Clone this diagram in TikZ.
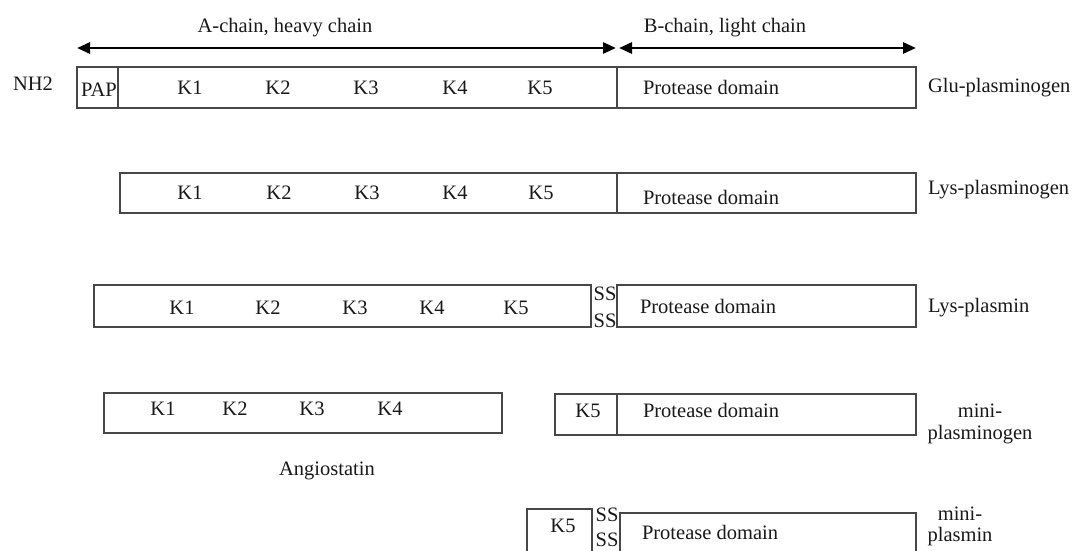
\documentclass[tikz,border=0pt]{standalone}
\usepackage{fontspec}
\setmainfont{Liberation Serif}
\usetikzlibrary{arrows.meta}
\begin{document}
\begin{tikzpicture}[x=1pt,y=-1pt,
  every node/.style={font=\fontsize{20.5}{22}\selectfont, text=black!90, inner sep=0pt, outer sep=0pt},
  dombox/.style={draw=black!72, line width=1.7pt},
  lbl/.style={anchor=base},
  lbw/.style={anchor=base west},
  chainarrow/.style={line width=2.8pt, {Triangle[length=13pt,width=11pt]}-{Triangle[length=13pt,width=11pt]}}]
\clip (0,0) rectangle (1073,550);
\fill[white] (0,0) rectangle (1073,550);
% chain arrows
\coordinate (aL) at (77,48);
\coordinate (aR) at (616,48);
\coordinate (bL) at (619,48);
\coordinate (bR) at (916,48);
\draw[chainarrow] (aL) -- (aR);
\draw[chainarrow] (bL) -- (bR);
\node[lbl] (alab) at (285,32) {A-chain, heavy chain};
\node[lbl] (blab) at (725,32) {B-chain, light chain};
% row 1 Glu-plasminogen
\draw[dombox] (77,67) rectangle (118,108);
\draw[dombox] (118,67) rectangle (617,108);
\draw[dombox] (617,67) rectangle (916,108);
\node[lbl] (nh2) at (33,90) {NH2};
\node[lbw] (pap) at (81,96) {PAP};
\node[lbl] (g1) at (190,94) {K1};
\node[lbl] (g2) at (278,94) {K2};
\node[lbl] (g3) at (366,94) {K3};
\node[lbl] (g4) at (455,94) {K4};
\node[lbl] (g5) at (540,94) {K5};
\node[lbw] (gp) at (643,94) {Protease domain};
\node[lbw] (gname) at (928,92) {Glu-plasminogen};
% row 2 Lys-plasminogen
\draw[dombox] (120,173) rectangle (617,213);
\draw[dombox] (617,173) rectangle (916,213);
\node[lbl] (l1) at (190,199) {K1};
\node[lbl] (l2) at (279,199) {K2};
\node[lbl] (l3) at (367,199) {K3};
\node[lbl] (l4) at (455,199) {K4};
\node[lbl] (l5) at (541,199) {K5};
\node[lbw] (lp) at (643,204) {Protease domain};
\node[lbw] (lname) at (928,194) {Lys-plasminogen};
% row 3 Lys-plasmin
\draw[dombox] (94,285) rectangle (591,327);
\draw[dombox] (617,285) rectangle (916,327);
\node[lbl] (m1) at (182,314) {K1};
\node[lbl] (m2) at (268,314) {K2};
\node[lbl] (m3) at (355,314) {K3};
\node[lbl] (m4) at (432,314) {K4};
\node[lbl] (m5) at (516,314) {K5};
\node[lbl] (ss1) at (605,300) {SS};
\node[lbl] (ss2) at (605,327) {SS};
\node[lbw] (mp) at (640,313) {Protease domain};
\node[lbw] (mname) at (928,312) {Lys-plasmin};
% row 4 Angiostatin + mini-plasminogen
\draw[dombox] (104,393) rectangle (502,433);
\node[lbl] (a1) at (163,415) {K1};
\node[lbl] (a2) at (235,415) {K2};
\node[lbl] (a3) at (312,415) {K3};
\node[lbl] (a4) at (390,415) {K4};
\node[lbl] (ang) at (327,475) {Angiostatin};
\draw[dombox] (555,394) rectangle (617,435);
\draw[dombox] (617,394) rectangle (916,435);
\node[lbl] (n5) at (588,417) {K5};
\node[lbw] (np) at (643,417) {Protease domain};
\node[lbl] (nname1) at (980,417) {mini-};
\node[lbl] (nname2) at (980,439) {plasminogen};
% row 5 mini-plasmin
\draw[dombox] (527,509) rectangle (592,565);
\draw[dombox] (620,513) rectangle (916,565);
\node[lbl] (p5) at (563,532) {K5};
\node[lbl] (ss3) at (607,521) {SS};
\node[lbl] (ss4) at (607,546) {SS};
\node[lbw] (pp) at (642,539) {Protease domain};
\node[lbl] (pname1) at (960,520) {mini-};
\node[lbl] (pname2) at (960,541) {plasmin};
\end{tikzpicture}
\end{document}
